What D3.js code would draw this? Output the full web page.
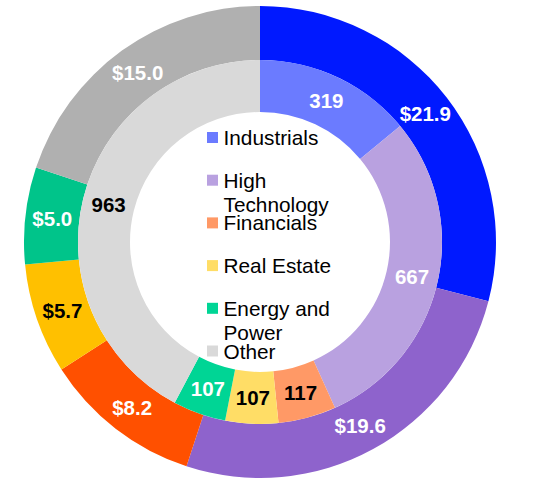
<!DOCTYPE html>
<html><head><meta charset="utf-8">
<script src="https://cdn.jsdelivr.net/npm/d3@7"></script>
<style>html,body{margin:0;padding:0;background:#fff;}svg{display:block;}</style>
</head><body>
<svg id="chart" width="539" height="480"></svg>
<script>
const categories = ["Industrials", "High Technology", "Financials", "Real Estate", "Energy and Power", "Other"];
const outerValues = [21.9, 19.6, 8.2, 5.7, 5.0, 15.0];
const innerValues = [319, 667, 117, 107, 107, 963];
const outerColors = ["#0019ff", "#8e63cc", "#ff5000", "#ffc000", "#00c48a", "#b0b0b0"];
const innerColors = ["#6b7bff", "#b9a1e0", "#ff9966", "#ffdd66", "#00d595", "#d9d9d9"];
const outerLabelColors = ["#fff", "#fff", "#fff", "#000", "#fff", "#fff"];
const innerLabelColors = ["#fff", "#fff", "#000", "#000", "#fff", "#000"];
const legendLines = [["Industrials"], ["High", "Technology"], ["Financials"], ["Real Estate"], ["Energy and", "Power"], ["Other"]];

const svg = d3.select("#chart");
const cx = 260, cy = 242;
const g = svg.append("g").attr("transform", `translate(${cx},${cy})`);
const pie = d3.pie().sort(null).value(d => d);

const outerArc = d3.arc().innerRadius(182).outerRadius(236);
const innerArc = d3.arc().innerRadius(130).outerRadius(182);

const outerData = pie(outerValues);
const innerData = pie(innerValues);

g.selectAll("path.outer").data(outerData).join("path")
  .attr("class", "outer").attr("d", outerArc)
  .attr("fill", (d, i) => outerColors[i]);
g.selectAll("path.inner").data(innerData).join("path")
  .attr("class", "inner").attr("d", innerArc)
  .attr("fill", (d, i) => innerColors[i]);

const font = "Liberation Sans, Arial, sans-serif";
g.selectAll("text.outer").data(outerData).join("text")
  .attr("class", "outer")
  .attr("transform", d => `translate(${outerArc.centroid(d)})`)
  .attr("text-anchor", "middle").attr("dy", "0.35em")
  .attr("font-family", font).attr("font-weight", "bold").attr("font-size", 20.5)
  .attr("fill", (d, i) => outerLabelColors[i])
  .text(d => "$" + d.data.toFixed(1));
g.selectAll("text.inner").data(innerData).join("text")
  .attr("class", "inner")
  .attr("transform", d => `translate(${innerArc.centroid(d)})`)
  .attr("text-anchor", "middle").attr("dy", "0.35em")
  .attr("font-family", font).attr("font-weight", "bold").attr("font-size", 20.5)
  .attr("fill", (d, i) => innerLabelColors[i])
  .text(d => d.data);

const legendY = d3.scalePoint().domain(categories).range([137.5, 351]);
const leg = svg.append("g");
const items = leg.selectAll("g").data(categories).join("g")
  .attr("transform", d => `translate(207,${legendY(d)})`);
items.append("rect").attr("x", 0).attr("y", -5.5).attr("width", 11).attr("height", 11)
  .attr("fill", (d, i) => innerColors[i]);
items.append("text").attr("x", 16.5)
  .attr("font-family", font).attr("font-size", 20.8).attr("fill", "#000")
  .each(function(d, i) {
    const t = d3.select(this);
    legendLines[i].forEach((line, j) => {
      t.append("tspan").attr("x", 16.5).attr("y", 7.5 + j * 24).text(line);
    });
  });
</script>
</body></html>
